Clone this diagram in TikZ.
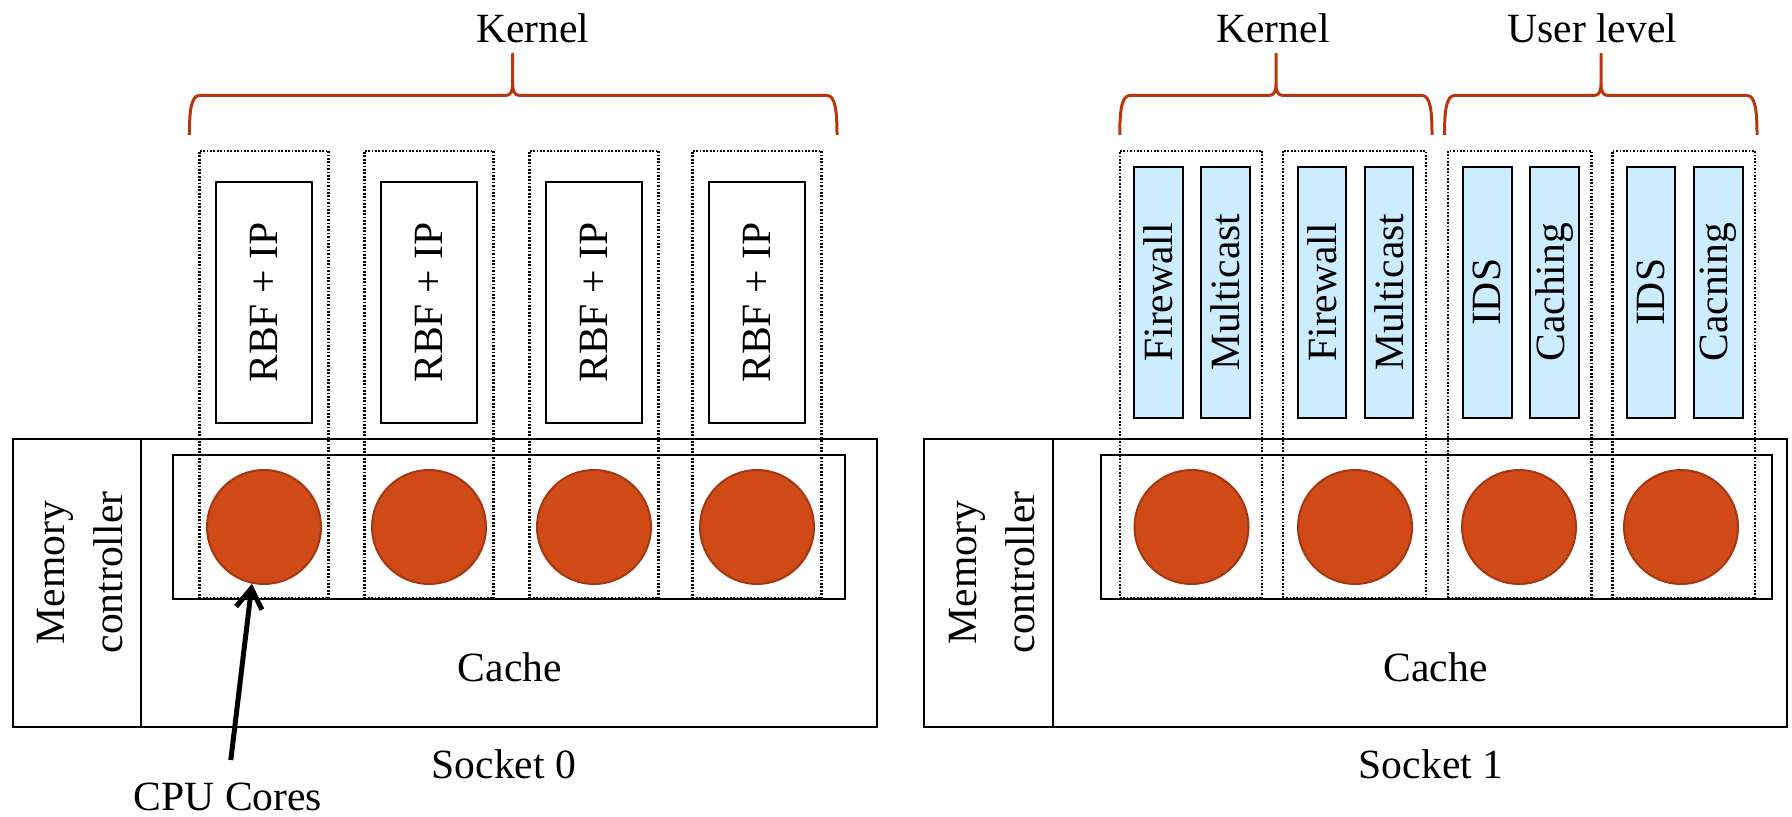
\documentclass[tikz,border=0pt]{standalone}
\usepackage{fontspec}
\setmainfont{Liberation Serif}
\usetikzlibrary{arrows.meta,fit}
\definecolor{bracered}{RGB}{183,54,14}
\definecolor{corefill}{RGB}{208,74,24}
\definecolor{coreline}{RGB}{165,56,16}
\definecolor{appblue}{RGB}{204,236,255}
\newcommand{\drawbrace}[3]{%
  \draw[bracestyle] (#1,135) .. controls (#1,112) and (#1+1.5,95.5) .. (#1+10,95.5)
    -- (#2-7,95.5) .. controls (#2-1.5,95.5) and (#2,91) .. (#2,83) -- (#2,54)
    -- (#2,83) .. controls (#2,91) and (#2+1.5,95.5) .. (#2+7,95.5)
    -- (#3-10,95.5) .. controls (#3-1.5,95.5) and (#3,112) .. (#3,135);}
\tikzset{
  every node/.style={font=\fontsize{20.8}{29}\selectfont},
  box/.style={draw, line width=1pt, inner sep=0pt},
  dotbox/.style={draw, line width=1.1pt, dash pattern=on 0.85pt off 0.85pt, inner sep=0pt},
  rbfbox/.style={box, fill=white},
  appbox/.style={box, fill=appblue},
  core/.style={circle, draw=coreline, fill=corefill, line width=1pt, minimum size=57pt, inner sep=0pt},
  lbl/.style={inner sep=0pt, anchor=base},
  rotlbl/.style={inner sep=0pt, rotate=90, align=center},
  bracestyle/.style={draw=bracered, line width=1.5pt, line join=round},
  cpuarrow/.style={line width=2.5pt, -{Straight Barb[length=10pt,width=13pt]}}
}
\begin{document}
\begin{tikzpicture}[x=0.5pt,y=-0.5pt]
\useasboundingbox (0,0) rectangle (1792,817);

% ---------------- Socket 0 ----------------
\node[box, fit={(12.6,439.3) (877.2,726.7)}] (s0) {};
\node[box, fit={(12.6,439.3) (141.2,726.7)}] (mc0) {};
\node[rotlbl] (mct0) at (80.3,572.5) {Memory\\controller};
\node[box, fit={(172.8,455) (845,598.5)}] (cores0) {};

\foreach \i/\cx in {1/264,2/429,3/594,4/757}{
  \node[core] (c0\i) at (\cx,527) {};
  \node[dotbox, fit={(\cx-64.5,150.7) (\cx+64.5,598.5)}] (d0\i) {};
  \node[rbfbox, fit={(\cx-48.2,182.3) (\cx+48.2,423)}] (r0\i) {};
  \node[rotlbl] (rt0\i) at (r0\i.center) {RBF + IP};
}

\node[lbl] (cache0) at (509.8,681.7) {Cache};
\node[lbl] (sock0) at (504,778) {Socket 0};
\node[lbl] (cpu) at (227.9,810) {CPU Cores};
\coordinate (cpubase) at (230.8,760);
\draw[cpuarrow] (cpubase) -- (c01.258);

\node[lbl] (kern0) at (532.7,43) {Kernel};
\drawbrace{189.4}{512.6}{837}

% ---------------- Socket 1 ----------------
\node[box, fit={(924.4,439.3) (1787,726.7)}] (s1) {};
\node[box, fit={(924.4,439.3) (1053.3,726.7)}] (mc1) {};
\node[rotlbl] (mct1) at (992.3,572.5) {Memory\\controller};
\node[box, fit={(1100.5,455) (1771.7,598.5)}] (cores1) {};

\foreach \i/\cx in {1/1191.5,2/1355,3/1519,4/1681}{
  \node[core] (c1\i) at (\cx,527) {};
}
\node[dotbox, fit={(1119.8,150.7) (1262.3,598.5)}] (d11) {};
\node[dotbox, fit={(1282.7,150.7) (1425.8,598.5)}] (d12) {};
\node[dotbox, fit={(1448.2,150.7) (1591.4,598.5)}] (d13) {};
\node[dotbox, fit={(1612.4,150.7) (1755,598.5)}] (d14) {};

\foreach \i/\xa/\xb/\txt in {1/1134/1182.8/Firewall, 2/1201/1249.8/Multicast,
    3/1297.5/1346.3/Firewall, 4/1364.5/1413.3/Multicast,
    5/1463/1511.5/IDS, 6/1530.1/1578.7/Caching,
    7/1626.5/1675.3/IDS, 8/1694.2/1742.7/Cacning}{
  \node[appbox, fit={(\xa,166.7) (\xb,418)}] (a\i) {};
  \node[rotlbl] (at\i) at (a\i.center) {\txt};
}

\node[lbl] (cache1) at (1435.5,681.7) {Cache};
\node[lbl] (sock1) at (1431,778) {Socket 1};

\node[lbl] (kern1) at (1273,43) {Kernel};
\node[lbl] (user1) at (1592.3,43) {User level};
\drawbrace{1119.8}{1276}{1432}
\drawbrace{1444.5}{1601}{1757}
\end{tikzpicture}
\end{document}
